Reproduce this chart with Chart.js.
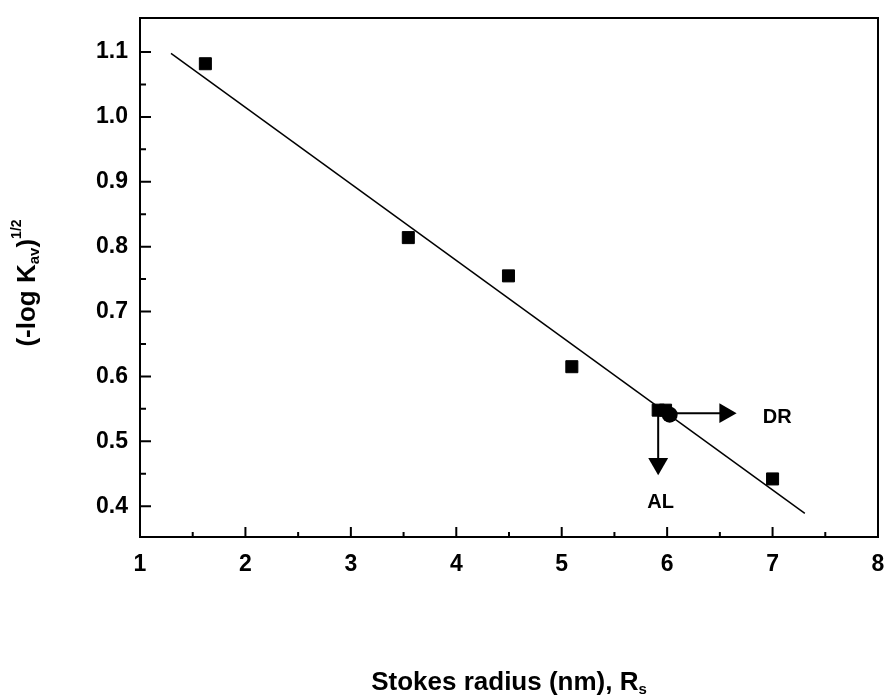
<!DOCTYPE html>
<html lang="en">
<head>
<meta charset="UTF-8">
<title>Stokes radius vs Kav</title>
<script src="https://cdn.jsdelivr.net/npm/chart.js"></script>
<style>
  body { margin: 0; background: #fff; }
</style>
</head>
<body>
<canvas id="kavChart" width="891" height="697"></canvas>
<script>
  // measured points (filled squares)
  const radiusX = [1.62, 3.545, 4.495, 5.096, 5.915, 5.985, 7.0];
  const kavY = [1.082, 0.814, 0.755, 0.615, 0.548, 0.548, 0.442];
  // filled circle
  const circleX = [6.024];
  const circleY = [0.541];
  // fitted line, two ends
  const fitX = [1.294, 7.306];
  const fitY = [1.098, 0.389];
  // arrows (start, head)
  const arrowALX = [5.915, 5.915];
  const arrowALY = [0.548, 0.4656];
  const arrowDRX = [6.024, 6.55];
  const arrowDRY = [0.5434, 0.5434];
  // labels next to arrows
  const noteText = ['DR', 'AL'];
  const noteX = [7.045, 5.938];
  const noteY = [0.5365, 0.406];
  // axis ticks
  const xTicks = [1, 2, 3, 4, 5, 6, 7, 8];
  const xMinor = [1.5, 2.5, 3.5, 4.5, 5.5, 6.5, 7.5];
  const yTicks = [0.4, 0.5, 0.6, 0.7, 0.8, 0.9, 1.0, 1.1];
  const yMinor = [0.45, 0.55, 0.65, 0.75, 0.85, 0.95, 1.05];

  const FONT = '"Liberation Sans", Arial, sans-serif';
  const pairs = (xs, ys) => xs.map((x, i) => ({ x: x, y: ys[i] }));

  // draws text pieces with sub/superscripts, centred on 0
  function drawRich(ctx, parts) {
    let w = 0;
    parts.forEach(p => {
      ctx.font = 'bold ' + p.size + 'px ' + FONT;
      p.w = ctx.measureText(p.t).width;
      w += p.w;
    });
    let cx = -w / 2;
    ctx.textAlign = 'left';
    ctx.textBaseline = 'alphabetic';
    parts.forEach(p => {
      ctx.font = 'bold ' + p.size + 'px ' + FONT;
      ctx.fillText(p.t, cx, p.dy);
      cx += p.w;
    });
  }

  const framePlugin = {
    id: 'frame',
    beforeDraw(chart) {
      const ctx = chart.ctx;
      ctx.save();
      ctx.fillStyle = '#fff';
      ctx.fillRect(0, 0, chart.width, chart.height);
      ctx.restore();
    },
    afterDraw(chart) {
      const { ctx, chartArea: a } = chart;
      const x = chart.scales.x, y = chart.scales.y;
      ctx.save();
      ctx.strokeStyle = '#000';
      ctx.fillStyle = '#000';
      ctx.lineWidth = 2;
      ctx.strokeRect(a.left, a.top, a.right - a.left, a.bottom - a.top);

      // inward tick marks
      ctx.beginPath();
      xTicks.forEach(v => {
        const px = x.getPixelForValue(v);
        ctx.moveTo(px, a.bottom); ctx.lineTo(px, a.bottom - 10);
      });
      xMinor.forEach(v => {
        const px = x.getPixelForValue(v);
        ctx.moveTo(px, a.bottom); ctx.lineTo(px, a.bottom - 5);
      });
      yTicks.forEach(v => {
        const py = y.getPixelForValue(v);
        ctx.moveTo(a.left, py); ctx.lineTo(a.left + 11, py);
      });
      yMinor.forEach(v => {
        const py = y.getPixelForValue(v);
        ctx.moveTo(a.left, py); ctx.lineTo(a.left + 6, py);
      });
      ctx.stroke();

      // arrow labels
      ctx.font = 'bold 20px ' + FONT;
      ctx.textAlign = 'center';
      ctx.textBaseline = 'middle';
      noteText.forEach((t, i) => {
        ctx.fillText(t, x.getPixelForValue(noteX[i]), y.getPixelForValue(noteY[i]));
      });

      // x title
      ctx.save();
      ctx.translate((a.left + a.right) / 2, 690);
      drawRich(ctx, [
        { t: 'Stokes radius (nm), R', size: 26, dy: 0 },
        { t: 's', size: 15, dy: 4 }
      ]);
      ctx.restore();

      // y title
      ctx.save();
      ctx.translate(35, 283);
      ctx.rotate(-Math.PI / 2);
      drawRich(ctx, [
        { t: '(-log K', size: 26, dy: 0 },
        { t: 'av', size: 15, dy: 4 },
        { t: ')', size: 26, dy: 0 },
        { t: '1/2', size: 14, dy: -14 }
      ]);
      ctx.restore();

      ctx.restore();
    }
  };

  const tickFont = { family: FONT, size: 23, weight: 'bold' };

  new Chart(document.getElementById('kavChart'), {
    type: 'scatter',
    data: {
      datasets: [
        {
          data: pairs(radiusX, kavY),
          pointStyle: 'rect',
          pointRadius: 8.5,
          backgroundColor: '#000',
          borderColor: '#000',
          borderWidth: 1
        },
        {
          data: pairs(circleX, circleY),
          pointStyle: 'circle',
          pointRadius: 8,
          backgroundColor: '#000',
          borderColor: '#000',
          borderWidth: 0
        },
        {
          data: pairs(arrowALX, arrowALY),
          showLine: true,
          borderColor: '#000',
          borderWidth: 2,
          pointStyle: 'triangle',
          rotation: 180,
          pointRadius: [0, 11.5],
          pointBackgroundColor: '#000',
          pointBorderWidth: 0
        },
        {
          data: pairs(arrowDRX, arrowDRY),
          showLine: true,
          borderColor: '#000',
          borderWidth: 2,
          pointStyle: 'triangle',
          rotation: 90,
          pointRadius: [0, 11.5],
          pointBackgroundColor: '#000',
          pointBorderWidth: 0
        },
        {
          data: pairs(fitX, fitY),
          showLine: true,
          borderColor: '#000',
          borderWidth: 1.5,
          pointRadius: 0
        }
      ]
    },
    options: {
      responsive: false,
      animation: false,
      events: [],
      layout: { autoPadding: false, padding: { top: 18, right: 13, bottom: 0, left: 0 } },
      plugins: {
        legend: { display: false },
        tooltip: { enabled: false }
      },
      scales: {
        x: {
          type: 'linear',
          min: 1,
          max: 8,
          afterBuildTicks: s => { s.ticks = xTicks.map(v => ({ value: v })); },
          afterFit: s => { s.height = 160; s.paddingLeft = 0; s.paddingRight = 0; },
          grid: { display: false, drawTicks: false },
          border: { display: false },
          ticks: {
            font: tickFont,
            color: '#000',
            padding: 14,
            maxRotation: 0,
            autoSkip: false,
            callback: v => String(v)
          }
        },
        y: {
          type: 'linear',
          min: 0.3525,
          max: 1.1525,
          afterBuildTicks: s => { s.ticks = yTicks.map(v => ({ value: v })); },
          afterFit: s => { s.width = 140; s.paddingTop = 0; s.paddingBottom = 0; },
          grid: { display: false, drawTicks: false },
          border: { display: false },
          ticks: {
            font: tickFont,
            color: '#000',
            padding: 12,
            autoSkip: false,
            callback: v => v.toFixed(1)
          }
        }
      }
    },
    plugins: [framePlugin]
  });
</script>
</body>
</html>
